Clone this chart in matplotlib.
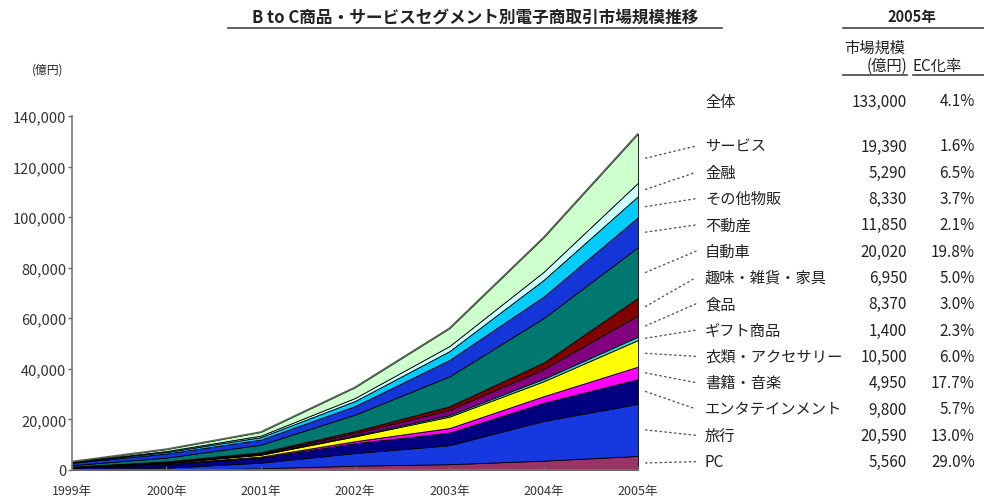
import matplotlib.pyplot as plt
from matplotlib.patches import ConnectionPatch
from matplotlib.lines import Line2D

plt.rcParams['font.family'] = ['Noto Sans CJK JP', 'DejaVu Sans']

years = ['1999年', '2000年', '2001年', '2002年', '2003年', '2004年', '2005年']

# セグメント別市場規模(億円)、下から積み上げ順
pc       = [0, 0, 700, 1700, 2300, 3700, 5560]
ryoko    = [300, 900, 2200, 5000, 7500, 15700, 20590]
entame   = [600, 1400, 2000, 3900, 5000, 7200, 9800]
shoseki  = [100, 250, 400, 800, 1800, 2600, 4950]
irui     = [100, 300, 700, 1900, 4500, 5900, 10500]
gift     = [50, 100, 200, 400, 600, 1000, 1400]
shokuhin = [100, 250, 400, 900, 2000, 3800, 8370]
shumi    = [80, 200, 400, 800, 1500, 2600, 6950]
jidosha  = [600, 1500, 3000, 6500, 11800, 17600, 20020]
fudosan  = [900, 1600, 2000, 3400, 6500, 8500, 11850]
sonota   = [250, 600, 1000, 2000, 3500, 6600, 8330]
kinyu    = [130, 400, 600, 1200, 2000, 3200, 5290]
service  = [150, 740, 1400, 4200, 7000, 13600, 19390]

names = ['PC', '旅行', 'エンタテインメント', '書籍・音楽', '衣類・アクセサリー', 'ギフト商品',
         '食品', '趣味・雑貨・家具', '自動車', '不動産', 'その他物販', '金融', 'サービス']
ec_rate = ['29.0%', '13.0%', '5.7%', '17.7%', '6.0%', '2.3%',
           '3.0%', '5.0%', '19.8%', '2.1%', '3.7%', '6.5%', '1.6%']
colors = ['#993366', '#1638E0', '#000080', '#FF00FF', '#FFFF00', '#33CCCC',
          '#800080', '#800000', '#007870', '#1435D8', '#00CCFF', '#CCFFFF', '#CCFFCC']

total_2005 = 133000
total_rate = '4.1%'

series = [pc, ryoko, entame, shoseki, irui, gift, shokuhin, shumi,
          jidosha, fudosan, sonota, kinyu, service]

W, H = 984, 502
fig = plt.figure(figsize=(W / 100, H / 100), dpi=100)
ax = fig.add_axes([72 / W, 31 / H, 566 / W, 354 / H])

x = list(range(len(years)))
ax.stackplot(x, *series, colors=colors, edgecolor='black', linewidth=0.6)
top = [sum(s[j] for s in series) for j in x]
ax.plot(x, top, color='#556655', lw=1.2)

ax.set_xlim(0, 6)
ax.set_ylim(0, 140000)
ax.set_yticks(range(0, 140001, 20000))
ax.set_yticklabels([f'{v:,}' for v in range(0, 140001, 20000)])
ax.set_xticks(x)
ax.set_xticklabels(years)
ax.tick_params(axis='y', direction='out', length=3, width=1, color='#666666',
               labelsize=10.5, labelcolor='#333333', pad=1)
ax.tick_params(axis='x', direction='in', length=3, width=1, color='#666666',
               labelsize=9, labelcolor='#333333', pad=10)
for s in ['top', 'right']:
    ax.spines[s].set_visible(False)
for s in ['left', 'bottom']:
    ax.spines[s].set_color('#777777')
    ax.spines[s].set_linewidth(1.2)

def fy(py):
    return 1 - py / H

txt = '#222222'

# タイトル
fig.text(475 / W, fy(18), 'B to C商品・サービスセグメント別電子商取引市場規模推移',
         ha='center', va='center', fontsize=12, fontweight='bold', color=txt)
fig.add_artist(Line2D([228 / W, 722 / W], [fy(29), fy(29)], color='#444444', lw=1.2))
fig.text(48 / W, fy(70), '(億円)', ha='center', va='center', fontsize=8.5, color=txt)

# 表の見出し
fig.text(912 / W, fy(17), '2005年', ha='center', va='center', fontsize=10.5,
         fontweight='bold', color=txt)
fig.add_artist(Line2D([843 / W, 984 / W], [fy(29), fy(29)], color='#444444', lw=1.2))
fig.text(875 / W, fy(48), '市場規模', ha='center', va='center', fontsize=11, color=txt)
fig.text(907 / W, fy(66), '(億円)', ha='right', va='center', fontsize=11, color=txt)
fig.text(913 / W, fy(66), 'EC化率', ha='left', va='center', fontsize=11, color=txt)
fig.add_artist(Line2D([843 / W, 907 / W], [fy(76), fy(76)], color='#444444', lw=1.2))
fig.add_artist(Line2D([913 / W, 984 / W], [fy(76), fy(76)], color='#444444', lw=1.2))

# 全体
fig.text(705 / W, fy(102), '全体', ha='left', va='center', fontsize=11, color=txt)
fig.text(907 / W, fy(102), f'{total_2005:,}', ha='right', va='center', fontsize=11, color=txt)
fig.text(975 / W, fy(102), total_rate, ha='right', va='center', fontsize=11, color=txt)

# セグメント別の行と引き出し線
cum = 0
mids = []
for s in series:
    mids.append(cum + s[-1] / 2)
    cum += s[-1]

n = len(series)
for k in range(n):
    i = n - 1 - k
    row_y = 147 + k * 26.3
    fig.text(705 / W, fy(row_y), names[i], ha='left', va='center', fontsize=11, color=txt)
    fig.text(907 / W, fy(row_y), f'{series[i][-1]:,}', ha='right', va='center',
             fontsize=11, color=txt)
    fig.text(975 / W, fy(row_y), ec_rate[i], ha='right', va='center', fontsize=11, color=txt)
    con = ConnectionPatch(xyA=(6.08, mids[i]), coordsA=ax.transData,
                          xyB=(696, H - row_y), coordsB='figure pixels',
                          color='#555555', lw=1, linestyle=(0, (1, 2.5)))
    fig.add_artist(con)

fig.savefig('out.png', dpi=100)
